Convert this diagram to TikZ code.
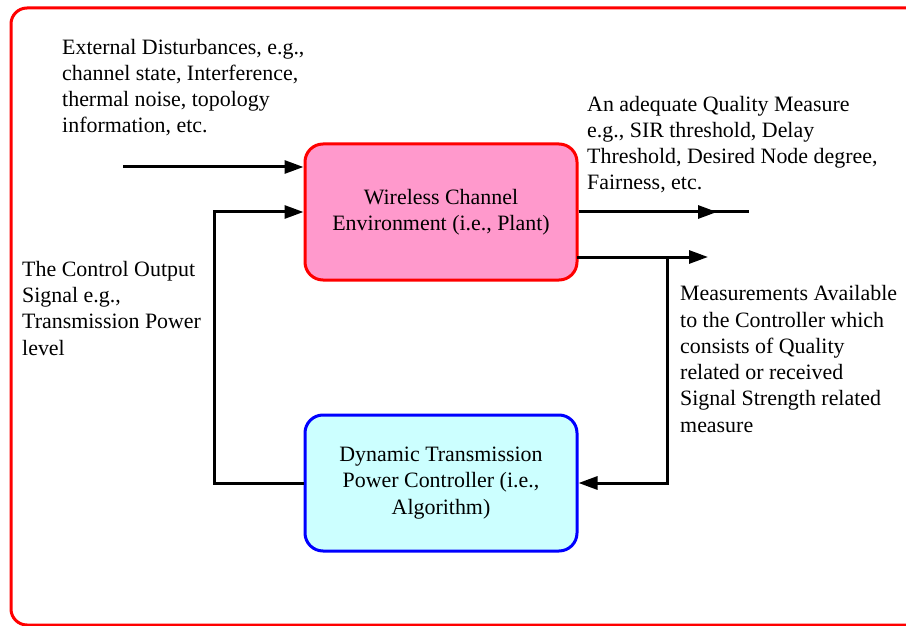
\documentclass[tikz,border=0pt]{standalone}
\usepackage{fontspec}
\setmainfont{Liberation Serif}
\usetikzlibrary{arrows.meta}
\definecolor{plantfill}{HTML}{FF99CC}
\definecolor{ctrlfill}{HTML}{CCFFFF}
\begin{document}
\begin{tikzpicture}[x=1bp,y=-1bp,
  txt/.style={font=\fontsize{22}{26.3}\selectfont, inner sep=0pt, align=left, anchor=base west},
  blk/.style={rounded corners=18bp, line width=3bp, minimum width=272bp, minimum height=136bp, align=center, font=\fontsize{22}{26.5}\selectfont, inner sep=0pt},
  conn/.style={line width=3bp},
  arr/.style={conn, -{Triangle[length=19bp,width=13bp]}}]
\useasboundingbox (0,0) rectangle (906,626);
\begin{scope}
\clip (0,0) rectangle (906,626);
\draw[red, line width=3bp, rounded corners=16bp] (11,8) rectangle (930,625);
\end{scope}
% blocks
\node[blk, draw=red, fill=plantfill] (plant) at (441,212) {Wireless Channel\\Environment (i.e., Plant)};
\node[blk, draw=blue, fill=ctrlfill] (ctrl) at (441,483) {Dynamic Transmission\\Power Controller (i.e.,\\Algorithm)};
% texts (anchored at the baseline of their last line)
\node[txt] (ext) at (62,133) {External Disturbances, e.g.,\\channel state, Interference,\\thermal noise, topology\\information, etc.};
\node[txt] (qual) at (587,190) {An adequate Quality Measure\\e.g., SIR threshold, Delay\\Threshold, Desired Node degree,\\Fairness, etc.};
\node[txt] (cout) at (22,355) {The Control Output\\Signal e.g.,\\Transmission Power\\level};
\node[txt] (meas) at (680,432) {Measurements Available\\to the Controller which\\consists of Quality\\related or received\\Signal Strength related\\measure};
% coordinates
\coordinate (extin) at (123,167);
\coordinate (fb) at (214,300);
\coordinate (outend) at (749,212);
\coordinate (outtip) at (717,212);
\coordinate (m0) at (577,257);
\coordinate (mj) at (667,257);
\coordinate (mtip) at (708,257);
% connectors
\draw[arr] (extin) -- (extin -| plant.west);
\draw[arr] (ctrl.west) -- (ctrl.west -| fb) |- (plant.west);
\draw[conn] (plant.east) -- (outend);
\draw[arr] (plant.east) -- (outtip);
\draw[arr] (m0) -- (mtip);
\draw[arr] (mj) |- (ctrl.east);
\end{tikzpicture}
\end{document}
